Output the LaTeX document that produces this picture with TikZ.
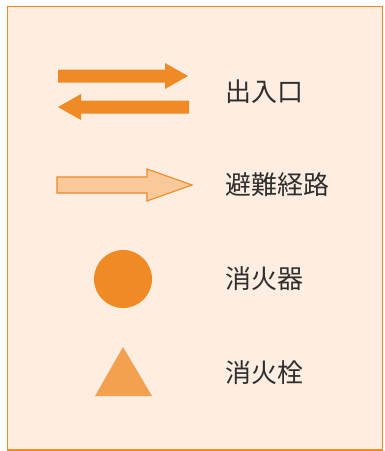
\documentclass[tikz,border=0pt]{standalone}
\usepackage{fontspec}
\setmainfont{Noto Sans CJK JP}
\definecolor{legendbg}{HTML}{FDEEE1}
\definecolor{legendorange}{HTML}{EF8A24}
\definecolor{routefill}{HTML}{F9C99C}
\definecolor{hydrant}{HTML}{F3A04F}
\definecolor{labeltext}{HTML}{2E2E2E}
\begin{document}
\begin{tikzpicture}[x=1pt, y=-1pt]
	\useasboundingbox (0,0) rectangle (384,451);
	\tikzstyle{label}=[anchor=west, inner sep=0pt, text=labeltext, font=\fontsize{26}{26}\selectfont]

	% frame
	\draw [fill=legendbg, draw=legendorange, line width=1.8] (7.5,6.5) rectangle (382.5,450);

	% entrance arrows
	\fill [legendorange] (58,69.5) -- (165,69.5) -- (165,63) -- (188,76) -- (165,89) -- (165,82.5) -- (58,82.5) -- cycle;
	\fill [legendorange] (189,100.5) -- (81,100.5) -- (81,94) -- (58,107) -- (81,120) -- (81,113.5) -- (189,113.5) -- cycle;
	\node (entrance) [label] at (225,92) {出入口};

	% evacuation route
	\draw [fill=routefill, draw=legendorange, line width=1.1] (57,177) -- (147,177) -- (147,169) -- (192,185) -- (147,201) -- (147,193) -- (57,193) -- cycle;
	\node (route) [label] at (225,185) {避難経路};

	% extinguisher
	\fill [legendorange] (123,279) circle (29);
	\node (extinguisher) [label] at (225,279) {消火器};

	% hydrant
	\fill [hydrant] (123,347) -- (152,396) -- (95,396) -- cycle;
	\node (hydrant) [label] at (225,373) {消火栓};
\end{tikzpicture}
\end{document}
